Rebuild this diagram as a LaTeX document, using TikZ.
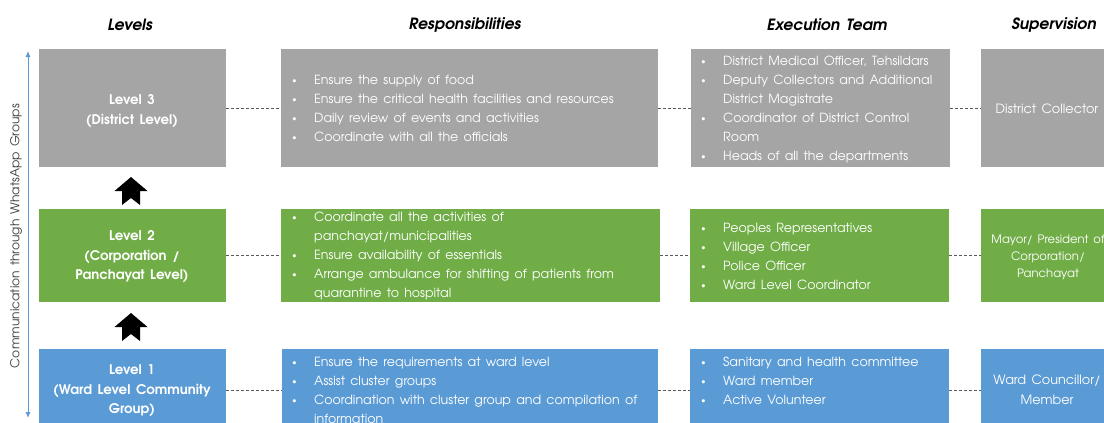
\documentclass[tikz,border=0pt]{standalone}
\usepackage{fontspec}
\setmainfont{texgyreadventor}[Extension=.otf, UprightFont=*-regular, BoldFont=*-bold, ItalicFont=*-italic, BoldItalicFont=*-bolditalic, WordSpace=1.5]
\usetikzlibrary{arrows.meta}
\definecolor{boxgray}{HTML}{A5A5A5}
\definecolor{boxgreen}{HTML}{70AD47}
\definecolor{boxblue}{HTML}{5B9BD5}
\definecolor{dashgray}{HTML}{595959}
\definecolor{commtext}{HTML}{404040}
\newcommand\bul{\makebox[22pt][l]{\raisebox{0.12ex}{\fontsize{9}{9}\selectfont\textbullet}}}
\newcommand\cont{\hspace*{22pt}}
\tikzset{
  cell/.style={anchor=north west, inner sep=0pt, outer sep=0pt, draw=none},
  hdr/.style={font=\fontsize{15.5}{18}\selectfont\bfseries\itshape, inner sep=0pt},
  lvl/.style={font=\fontsize{13.3}{19.5}\selectfont\bfseries, text=white, align=center, inner sep=0pt},
  body/.style={font=\fontsize{12.6}{19}\selectfont, text=white, align=left, inner sep=0pt, anchor=west},
  sup/.style={font=\fontsize{12.8}{19.5}\selectfont, text=white, align=center, inner sep=0pt},
  conn/.style={draw=dashgray, dash pattern=on 3pt off 2pt, line width=0.8pt},
  uparrow/.pic={\fill[black] (0,-14) -- (-16.5,0) -- (-9,0) -- (-9,14) -- (0,7) -- (9,14) -- (9,0) -- (16.5,0) -- cycle;}
}
\begin{document}
\begin{tikzpicture}[x=1pt,y=-1pt]
\path[use as bounding box] (0,0) rectangle (1104,423);
\clip (0,0) rectangle (1104,423);
\fill[white] (0,0) rectangle (1104,423);

% headers
\node[hdr] (hL) at (130,25) {Levels};
\node[hdr] (hR) at (465,25) {Responsibilities};
\node[hdr] (hE) at (827,25) {Execution Team};
\node[hdr] (hS) at (1054,25) {Supervision};

% communication arrow
\coordinate (ctop) at (28,51);
\coordinate (cbot) at (28,418);
\draw[boxblue, line width=0.9pt, {Latex[length=6pt,width=5pt]}-{Latex[length=6pt,width=5pt]}] (cbot) -- (ctop);
\node[rotate=90, font=\fontsize{12.3}{14}\selectfont, text=commtext, inner sep=0pt] (comm) at (16,236) {Communication through WhatsApp Groups};

% row 3
\node[cell, fill=boxgray, minimum width=187pt, minimum height=118pt] (L3) at (39,49) {};
\node[cell, fill=boxgray, minimum width=377pt, minimum height=118pt] (R3) at (281,49) {};
\node[cell, fill=boxgray, minimum width=259pt, minimum height=118pt] (E3) at (691,49) {};
\node[cell, fill=boxgray, minimum width=131pt, minimum height=118pt] (S3) at (981,49) {};
% row 2
\node[cell, fill=boxgreen, minimum width=187pt, minimum height=93pt] (L2) at (39,209) {};
\node[cell, fill=boxgreen, minimum width=379pt, minimum height=93pt] (R2) at (281,209) {};
\node[cell, fill=boxgreen, minimum width=259pt, minimum height=93pt] (E2) at (690,209) {};
\node[cell, fill=boxgreen, minimum width=131pt, minimum height=93pt] (S2) at (981,209) {};
% row 1
\node[cell, fill=boxblue, minimum width=187pt, minimum height=83pt] (L1) at (39,349) {};
\node[cell, fill=boxblue, minimum width=376pt, minimum height=83pt] (R1) at (282,349) {};
\node[cell, fill=boxblue, minimum width=259pt, minimum height=83pt] (E1) at (690,349) {};
\node[cell, fill=boxblue, minimum width=131pt, minimum height=83pt] (S1) at (981,349) {};

% connectors
\foreach \r in {3,2,1}{
  \draw[conn] (L\r.east) -- (R\r.west);
  \draw[conn] (R\r.east) -- (E\r.west);
  \draw[conn] (E\r.east) -- (S\r.west);
}

% block arrows
\pic (up1) at (131,191) {uparrow};
\pic (up2) at (131,327) {uparrow};

% texts row 3
\node[lvl] (L3t) at (132,111) {Level 3\\(District Level)};
\node[body] (R3t) at (292,108.5) {\bul Ensure the supply of food\\
\bul Ensure the critical health facilities and resources\\
\bul Daily review of events and activities\\
\bul Coordinate with all the officials};
\node[body] (E3t) at (701,109.5) {\bul District Medical Officer, Tehsildars\\
\bul Deputy Collectors and Additional\\
\cont District Magistrate\\
\bul Coordinator of District Control\\
\cont Room\\
\bul Heads of all the departments};
\node[sup] (S3t) at (1047,109) {District Collector};

% texts row 2
\node[lvl] (L2t) at (132,257) {Level 2\\(Corporation /\\Panchayat Level)};
\node[body] (R2t) at (292,256) {\bul Coordinate all the activities of\\
\cont panchayat/municipalities\\
\bul Ensure availability of essentials\\
\bul Arrange ambulance for shifting of patients from\\
\cont quarantine to hospital};
\node[body] (E2t) at (701,256) {\bul Peoples Representatives\\
\bul Village Officer\\
\bul Police Officer\\
\bul Ward Level Coordinator};
\node[sup, font=\fontsize{11.6}{17}\selectfont] (S2t) at (1048,257) {Mayor/ President of\\Corporation/\\Panchayat};

% texts row 1
\node[lvl] (L1t) at (132,391) {Level 1\\(Ward Level Community\\Group)};
\node[body] (R1t) at (292,390) {\bul Ensure the requirements at ward level\\
\bul Assist cluster groups\\
\bul Coordination with cluster group and compilation of\\
\cont information};
\node[body] (E1t) at (701,381) {\bul Sanitary and health committee\\
\bul Ward member\\
\bul Active Volunteer};
\node[sup] (S1t) at (1047,390) {Ward Councillor/\\Member};
\end{tikzpicture}
\end{document}
